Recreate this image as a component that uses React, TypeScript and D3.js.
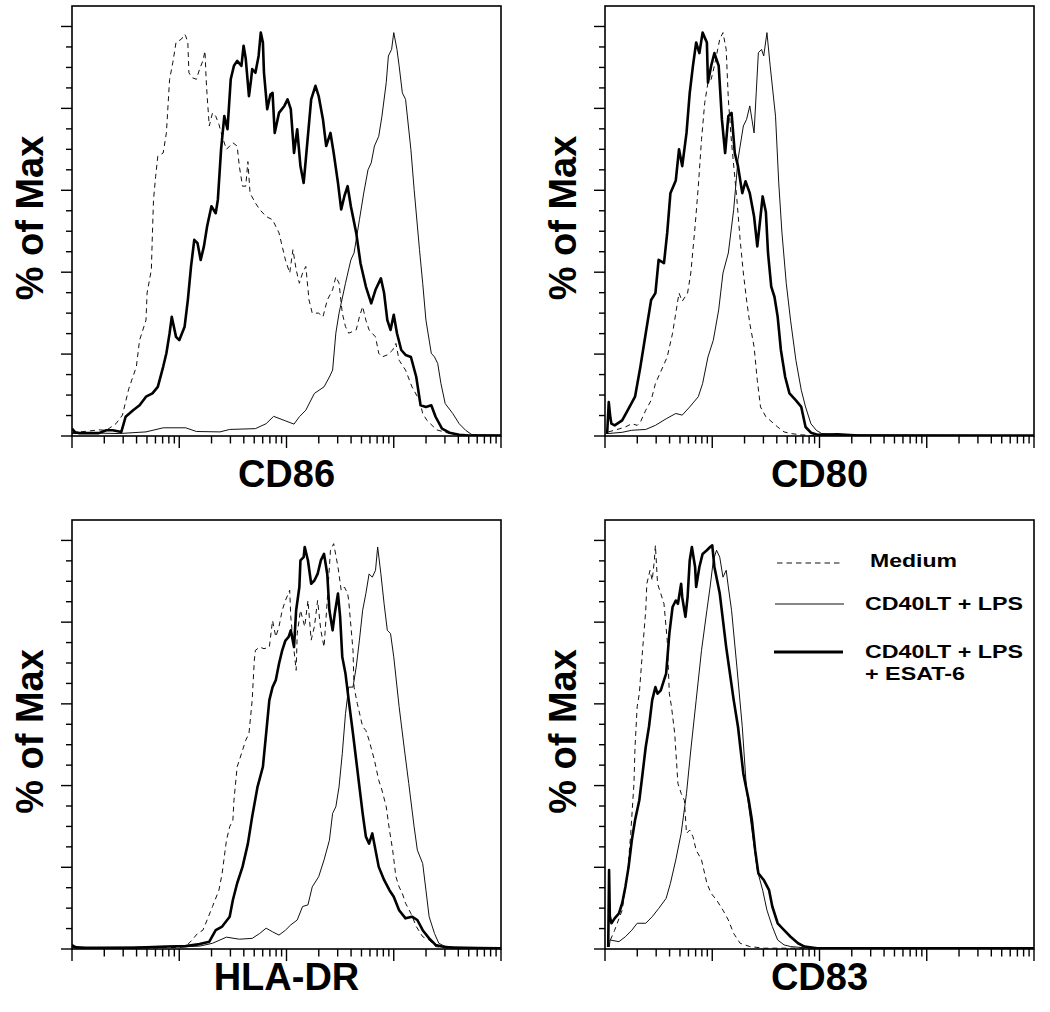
import React from 'react';
import * as d3 from 'd3';

type Pt = [number, number]; // [log10 fluorescence, % of max]

// ---------- data (x = log10 intensity, y = % of max) ----------
const cd86Medium: Pt[] = [[0.00,0.8],[0.15,1.2],[0.25,1.5],[0.32,1.4],[0.41,3.0],[0.47,5.1],[0.53,11.6],[0.60,16.9],[0.63,23.4],[0.69,28.3],[0.70,34.9],[0.74,40.6],[0.75,49.6],[0.76,57.7],[0.78,63.4],[0.80,68.3],[0.85,69.1],[0.88,74.0],[0.91,87.1],[0.94,91.2],[0.97,96.1],[1.02,96.9],[1.05,98.1],[1.06,97.7],[1.08,96.1],[1.09,88.7],[1.12,87.5],[1.16,87.1],[1.19,89.6],[1.22,91.6],[1.24,94.0],[1.25,87.5],[1.26,83.0],[1.28,75.7],[1.31,78.9],[1.34,78.1],[1.37,76.1],[1.40,73.2],[1.44,70.0],[1.50,71.6],[1.54,70.8],[1.56,65.9],[1.59,61.0],[1.62,61.0],[1.64,67.0],[1.66,59.3],[1.71,56.9],[1.75,55.3],[1.81,53.6],[1.87,52.8],[1.90,51.2],[1.93,49.6],[1.96,46.3],[1.99,43.0],[2.03,39.8],[2.06,45.5],[2.09,40.6],[2.12,37.3],[2.15,39.8],[2.18,41.4],[2.21,33.2],[2.24,30.0],[2.30,30.0],[2.34,29.1],[2.38,33.2],[2.43,35.7],[2.46,38.9],[2.49,37.3],[2.52,30.0],[2.55,26.7],[2.58,25.1],[2.65,25.9],[2.68,29.1],[2.71,31.6],[2.74,28.3],[2.77,25.9],[2.83,24.2],[2.86,20.2],[2.89,19.3],[2.94,19.8],[2.99,21.0],[3.02,22.6],[3.05,18.5],[3.11,16.1],[3.17,12.0],[3.24,8.7],[3.27,5.5],[3.31,3.8],[3.40,1.5],[3.55,0.4],[4.00,0.1]];
const cd86Lps: Pt[] = [[0.00,0.6],[0.26,0.7],[0.44,0.6],[0.69,1.0],[0.85,2.0],[1.06,2.0],[1.16,1.1],[1.38,1.0],[1.47,1.6],[1.71,1.8],[1.81,3.0],[1.88,4.8],[1.99,3.7],[2.07,2.9],[2.12,4.7],[2.18,6.3],[2.26,10.4],[2.35,12.0],[2.40,14.4],[2.43,16.1],[2.46,25.1],[2.49,30.0],[2.55,37.3],[2.60,43.0],[2.63,44.7],[2.68,52.8],[2.72,59.3],[2.76,65.0],[2.79,66.7],[2.82,70.8],[2.86,73.2],[2.89,78.1],[2.93,86.3],[2.95,92.8],[2.98,94.4],[3.00,98.5],[3.03,94.4],[3.05,90.4],[3.08,83.8],[3.11,82.2],[3.16,69.9],[3.19,60.2],[3.24,45.5],[3.27,37.3],[3.30,28.3],[3.35,20.2],[3.38,19.3],[3.41,17.7],[3.44,12.8],[3.48,7.9],[3.55,5.5],[3.61,3.0],[3.67,1.4],[3.73,0.3],[4.00,0.2]];
const cd86Esat: Pt[] = [[0.00,1.8],[0.03,0.9],[0.07,0.7],[0.25,0.7],[0.32,1.4],[0.38,1.4],[0.46,1.0],[0.50,4.7],[0.57,6.3],[0.63,7.5],[0.69,9.6],[0.75,10.4],[0.80,12.0],[0.85,16.9],[0.88,20.2],[0.91,25.1],[0.93,29.1],[0.97,24.2],[1.00,23.4],[1.05,26.7],[1.08,33.2],[1.11,41.4],[1.14,47.9],[1.17,47.1],[1.20,43.0],[1.23,46.3],[1.26,51.2],[1.30,56.1],[1.34,54.4],[1.36,57.7],[1.39,70.0],[1.42,78.1],[1.45,74.9],[1.48,87.1],[1.51,90.4],[1.54,91.6],[1.58,90.4],[1.60,95.3],[1.62,92.1],[1.65,83.0],[1.67,87.1],[1.68,89.6],[1.71,88.7],[1.74,92.8],[1.76,98.5],[1.78,96.1],[1.79,88.7],[1.82,79.8],[1.85,83.4],[1.87,83.8],[1.89,74.0],[1.93,78.9],[1.98,80.6],[2.01,82.2],[2.04,79.8],[2.07,69.1],[2.10,74.9],[2.13,65.9],[2.16,61.8],[2.18,67.5],[2.23,82.2],[2.27,85.5],[2.30,83.0],[2.34,77.3],[2.37,70.8],[2.41,74.0],[2.44,69.1],[2.48,61.8],[2.51,55.3],[2.54,58.6],[2.57,61.0],[2.60,56.1],[2.65,49.6],[2.69,42.2],[2.74,36.5],[2.79,32.4],[2.83,35.7],[2.88,38.5],[2.91,34.9],[2.94,28.3],[2.97,25.9],[3.00,29.6],[3.03,25.1],[3.07,21.0],[3.11,19.8],[3.16,19.3],[3.21,14.4],[3.25,7.5],[3.30,7.1],[3.35,7.5],[3.39,4.7],[3.45,1.8],[3.52,0.8],[3.61,0.3],[3.67,0.2],[4.00,0.1]];

const cd80Medium: Pt[] = [[0.03,1.0],[0.09,1.4],[0.19,2.2],[0.25,3.0],[0.30,2.6],[0.33,3.4],[0.38,6.3],[0.43,8.7],[0.47,12.8],[0.54,16.9],[0.58,19.3],[0.63,25.1],[0.66,30.0],[0.69,34.9],[0.72,32.9],[0.77,34.9],[0.80,39.8],[0.84,51.2],[0.87,61.0],[0.90,72.4],[0.93,81.4],[0.96,86.3],[0.99,87.1],[1.02,90.4],[1.07,96.9],[1.10,98.5],[1.13,94.4],[1.15,82.2],[1.18,71.6],[1.23,57.7],[1.26,47.9],[1.29,39.8],[1.32,33.2],[1.35,27.5],[1.39,21.8],[1.42,13.6],[1.45,7.1],[1.50,4.7],[1.54,3.8],[1.61,2.2],[1.67,1.0],[1.73,0.6],[1.83,0.3],[1.92,0.1],[4.00,0.1]];
const cd80Lps: Pt[] = [[0.03,0.6],[0.16,0.9],[0.25,1.4],[0.38,1.6],[0.47,2.6],[0.57,4.2],[0.66,5.5],[0.72,5.1],[0.79,7.1],[0.87,9.6],[0.91,12.8],[0.96,19.3],[1.01,23.4],[1.06,30.8],[1.10,39.8],[1.15,44.7],[1.20,55.3],[1.24,67.5],[1.29,75.7],[1.32,77.3],[1.35,80.6],[1.39,74.0],[1.41,83.8],[1.43,93.6],[1.46,94.4],[1.48,92.8],[1.51,98.5],[1.54,90.4],[1.59,78.1],[1.62,61.8],[1.65,49.6],[1.69,37.3],[1.73,28.3],[1.78,18.5],[1.83,11.2],[1.87,7.1],[1.92,3.0],[1.97,1.4],[2.02,0.6],[2.17,0.3],[4.00,0.1]];
const cd80Esat: Pt[] = [[0.02,0.5],[0.035,8.3],[0.05,4.5],[0.06,3.0],[0.09,2.6],[0.16,3.8],[0.22,6.7],[0.28,9.6],[0.33,16.9],[0.38,25.1],[0.43,33.2],[0.47,34.9],[0.50,43.0],[0.55,42.2],[0.58,49.6],[0.61,59.3],[0.66,62.4],[0.69,70.0],[0.72,65.9],[0.76,74.0],[0.79,83.8],[0.82,90.4],[0.85,96.1],[0.88,93.5],[0.91,98.5],[0.95,96.1],[0.96,86.3],[0.99,90.4],[1.02,93.5],[1.06,90.4],[1.09,77.3],[1.12,69.1],[1.15,78.1],[1.18,78.9],[1.21,69.1],[1.24,65.9],[1.28,59.3],[1.31,62.2],[1.35,59.3],[1.39,53.6],[1.42,46.3],[1.45,53.6],[1.47,58.5],[1.50,54.7],[1.52,44.7],[1.55,36.5],[1.58,34.0],[1.61,29.1],[1.64,21.0],[1.68,14.4],[1.72,10.4],[1.78,8.7],[1.83,7.1],[1.87,2.2],[1.92,0.8],[1.98,0.3],[2.17,0.4],[2.36,0.1],[4.00,0.1]];

const hladrMedium: Pt[] = [[0.00,0.3],[0.80,0.3],[1.00,0.4],[1.06,0.6],[1.12,2.2],[1.17,3.8],[1.22,4.6],[1.26,7.1],[1.31,10.4],[1.37,14.4],[1.40,18.5],[1.44,26.6],[1.47,29.9],[1.50,31.5],[1.51,36.4],[1.54,44.6],[1.58,47.8],[1.62,51.1],[1.65,52.7],[1.68,60.9],[1.70,70.7],[1.71,73.1],[1.75,73.9],[1.79,73.5],[1.84,73.9],[1.87,80.4],[1.90,76.4],[1.93,78.9],[1.96,82.9],[1.99,85.3],[2.03,87.8],[2.04,81.3],[2.06,75.6],[2.09,68.2],[2.10,77.2],[2.13,82.9],[2.17,78.9],[2.20,85.3],[2.23,75.6],[2.26,78.9],[2.29,85.3],[2.32,78.0],[2.35,73.9],[2.38,85.3],[2.41,97.6],[2.44,99.2],[2.48,93.5],[2.51,87.8],[2.54,88.6],[2.57,87.0],[2.58,85.3],[2.62,73.1],[2.63,64.1],[2.66,60.1],[2.71,54.4],[2.74,53.5],[2.77,51.1],[2.82,46.2],[2.86,41.3],[2.89,38.9],[2.93,34.8],[2.96,29.1],[2.99,24.2],[3.02,17.7],[3.05,15.2],[3.08,13.6],[3.11,11.2],[3.16,8.7],[3.21,5.5],[3.27,3.0],[3.33,2.2],[3.39,0.6],[3.50,0.2],[4.00,0.1]];
const hladrLps: Pt[] = [[0.00,0.3],[1.06,0.6],[1.19,0.7],[1.31,1.4],[1.44,2.9],[1.56,2.4],[1.68,2.6],[1.75,3.8],[1.81,5.1],[1.87,4.2],[1.93,3.4],[1.99,4.6],[2.04,5.9],[2.10,7.1],[2.15,10.4],[2.20,10.8],[2.24,15.2],[2.30,17.7],[2.35,21.8],[2.40,26.6],[2.43,33.2],[2.46,34.8],[2.49,39.7],[2.52,47.8],[2.55,57.6],[2.58,64.1],[2.62,64.1],[2.65,69.0],[2.68,75.6],[2.71,82.9],[2.74,87.0],[2.77,91.8],[2.80,91.0],[2.83,92.7],[2.85,98.4],[2.88,91.8],[2.91,84.5],[2.94,78.0],[2.97,77.2],[3.00,71.5],[3.05,59.3],[3.10,48.7],[3.14,40.5],[3.19,29.9],[3.22,24.2],[3.27,20.9],[3.30,14.4],[3.33,7.9],[3.38,3.8],[3.42,1.4],[3.48,0.6],[4.00,0.2]];
const hladrEsat: Pt[] = [[0.00,1.0],[0.02,0.6],[0.04,0.4],[0.13,0.3],[0.57,0.3],[0.88,0.6],[1.06,0.7],[1.19,1.2],[1.28,1.8],[1.34,4.6],[1.40,5.5],[1.47,7.9],[1.50,12.0],[1.54,16.1],[1.59,20.1],[1.64,25.8],[1.68,32.4],[1.73,39.7],[1.78,44.6],[1.81,52.7],[1.84,60.9],[1.87,64.1],[1.90,65.8],[1.93,69.8],[1.96,73.1],[1.99,75.5],[2.02,76.4],[2.04,78.0],[2.07,73.9],[2.09,82.9],[2.12,88.6],[2.13,95.1],[2.16,95.9],[2.17,98.4],[2.20,95.1],[2.23,89.4],[2.26,90.2],[2.29,91.8],[2.32,95.1],[2.35,96.7],[2.38,91.8],[2.40,82.9],[2.43,78.0],[2.45,82.1],[2.48,87.0],[2.50,81.3],[2.52,71.5],[2.55,67.4],[2.58,60.9],[2.62,52.7],[2.65,46.2],[2.68,39.7],[2.71,33.2],[2.74,27.5],[2.77,25.8],[2.80,28.3],[2.83,24.2],[2.86,20.1],[2.91,16.9],[2.96,14.4],[3.00,12.8],[3.05,9.5],[3.11,7.5],[3.17,7.9],[3.22,7.1],[3.27,4.6],[3.33,2.6],[3.39,1.0],[3.45,0.6],[3.55,0.3],[4.00,0.2]];

const cd83Medium: Pt[] = [[0.05,2.2],[0.09,4.6],[0.16,9.5],[0.21,18.5],[0.24,28.3],[0.27,40.5],[0.28,49.5],[0.30,59.3],[0.32,62.5],[0.35,73.1],[0.38,82.9],[0.39,89.4],[0.42,92.7],[0.44,90.2],[0.46,95.1],[0.47,98.8],[0.49,89.4],[0.52,87.0],[0.55,84.5],[0.58,75.6],[0.60,62.5],[0.62,59.3],[0.65,52.7],[0.68,40.5],[0.71,38.1],[0.74,36.4],[0.76,28.3],[0.79,29.1],[0.82,27.5],[0.85,24.2],[0.90,21.8],[0.95,16.1],[0.99,13.6],[1.04,12.0],[1.10,9.5],[1.15,7.1],[1.20,3.8],[1.26,1.4],[1.35,0.6],[1.48,0.2],[4.00,0.2]];
const cd83Lps: Pt[] = [[0.04,0.5],[0.047,2.2],[0.13,1.8],[0.19,3.0],[0.25,4.6],[0.30,6.3],[0.38,6.3],[0.44,7.9],[0.50,9.9],[0.57,12.4],[0.61,16.1],[0.66,21.8],[0.71,28.3],[0.76,38.1],[0.80,48.7],[0.85,60.9],[0.90,73.1],[0.95,82.9],[0.98,88.6],[1.01,95.1],[1.04,97.6],[1.07,95.9],[1.10,91.0],[1.13,92.7],[1.15,88.6],[1.18,82.9],[1.23,69.0],[1.28,54.4],[1.32,38.9],[1.37,29.1],[1.42,19.3],[1.47,14.4],[1.51,9.5],[1.56,5.5],[1.61,2.2],[1.67,1.0],[1.73,0.6],[1.86,0.3],[4.00,0.2]];
const cd83Esat: Pt[] = [[0.03,0.5],[0.038,19.3],[0.045,8.0],[0.06,6.3],[0.09,7.5],[0.13,8.7],[0.16,11.2],[0.19,15.2],[0.22,20.1],[0.25,26.6],[0.28,31.5],[0.32,36.4],[0.35,42.9],[0.38,49.5],[0.41,54.4],[0.44,60.9],[0.47,64.1],[0.49,62.5],[0.52,63.3],[0.55,65.8],[0.57,67.4],[0.60,77.2],[0.63,83.7],[0.66,85.3],[0.68,84.5],[0.71,89.4],[0.72,86.1],[0.75,81.3],[0.77,86.1],[0.79,95.1],[0.81,98.4],[0.84,93.5],[0.85,88.6],[0.88,93.5],[0.91,96.7],[0.95,97.6],[0.98,98.4],[1.00,98.8],[1.02,93.5],[1.07,87.0],[1.13,73.9],[1.20,60.9],[1.24,54.4],[1.29,42.9],[1.34,36.4],[1.37,31.5],[1.40,24.2],[1.43,18.5],[1.48,16.9],[1.53,14.4],[1.56,10.4],[1.61,6.3],[1.67,4.6],[1.73,3.0],[1.80,1.4],[1.86,0.6],[1.98,0.2],[4.00,0.2]];

const markerLabels = ['CD86', 'CD80', 'HLA-DR', 'CD83'];
const yAxisTitle = '% of Max';
const legendLabels = ['Medium', 'CD40LT + LPS', 'CD40LT + LPS', '+ ESAT-6'];
const xDomain: [number, number] = [1, 10000];
const yDomain: [number, number] = [0, 105];
const yTickValues = d3.range(0, 101, 5);

const FONT = "'Liberation Sans', Arial, Helvetica, sans-serif";
const W = 429;

interface PanelSpec {
  id: string; label: string; left: number; top: number; base: number; labelY: number;
  medium: Pt[]; lps: Pt[]; esat: Pt[]; legend?: boolean;
}

function Panel({ p }: { p: PanelSpec }) {
  const x = d3.scaleLog().domain(xDomain).range([p.left, p.left + W]);
  const y = d3.scaleLinear().domain(yDomain).range([p.base, p.top]);
  const line = d3.line<Pt>().x(d => x(Math.pow(10, d[0]))).y(d => y(d[1]));
  const xTicks = x.ticks();
  const isMajor = (t: number) => Math.abs(Math.log10(t) - Math.round(Math.log10(t))) < 1e-9;
  const cy = (p.top + p.base) / 2;
  const cx = p.left + W / 2;
  return (
    <g>
      <defs>
        <clipPath id={`clip-${p.id}`}>
          <rect x={p.left} y={p.top} width={W} height={p.base - p.top} />
        </clipPath>
      </defs>
      <g clipPath={`url(#clip-${p.id})`} fill="none" strokeLinejoin="round">
        <path d={line(p.medium) || ''} stroke="#111" strokeWidth={1} strokeDasharray="5,4" />
        <path d={line(p.lps) || ''} stroke="#111" strokeWidth={1} />
        <path d={line(p.esat) || ''} stroke="#000" strokeWidth={2.6} />
      </g>
      <rect x={p.left} y={p.top} width={W} height={p.base - p.top} fill="none" stroke="#000" strokeWidth={1.6} />
      {xTicks.map((t, i) => (
        <line key={'x' + i} x1={x(t)} x2={x(t)} y1={p.base} y2={p.base + (isMajor(t) ? 12 : 7.5)} stroke="#000" strokeWidth={1.4} />
      ))}
      {yTickValues.map((t, i) => (
        <line key={'y' + i} x1={p.left - (t % 20 === 0 ? 11 : 6)} x2={p.left} y1={y(t)} y2={y(t)} stroke="#000" strokeWidth={1.4} />
      ))}
      <text x={cx} y={p.labelY} textAnchor="middle" fontFamily={FONT} fontWeight="bold" fontSize={38} fill="#000">{p.label}</text>
      <text transform={`translate(${p.left - 29},${cy - 3}) rotate(-90)`} textAnchor="middle" fontFamily={FONT} fontWeight="bold" fontSize={38} fill="#000">{yAxisTitle}</text>
      {p.legend && (
        <g fontFamily={FONT} fontWeight="bold" fontSize={18.5} fill="#000">
          <line x1={777} x2={842} y1={563} y2={563} stroke="#111" strokeWidth={1.2} strokeDasharray="5.5,4" />
          <text x={870} y={567} textLength={87} lengthAdjust="spacingAndGlyphs">{legendLabels[0]}</text>
          <line x1={775} x2={844} y1={604} y2={604} stroke="#111" strokeWidth={1.1} />
          <text x={865} y={610} textLength={158} lengthAdjust="spacingAndGlyphs">{legendLabels[1]}</text>
          <line x1={774} x2={843} y1={652} y2={652} stroke="#000" strokeWidth={3} />
          <text x={865} y={658} textLength={158} lengthAdjust="spacingAndGlyphs">{legendLabels[2]}</text>
          <text x={865} y={679.5} textLength={100} lengthAdjust="spacingAndGlyphs">{legendLabels[3]}</text>
        </g>
      )}
    </g>
  );
}

export default function App() {
  const panels: PanelSpec[] = [
    { id: 'a', label: markerLabels[0], left: 72, top: 6, base: 436, labelY: 487, medium: cd86Medium, lps: cd86Lps, esat: cd86Esat },
    { id: 'b', label: markerLabels[1], left: 605, top: 6, base: 436, labelY: 487, medium: cd80Medium, lps: cd80Lps, esat: cd80Esat },
    { id: 'c', label: markerLabels[2], left: 72, top: 520, base: 949, labelY: 990, medium: hladrMedium, lps: hladrLps, esat: hladrEsat },
    { id: 'd', label: markerLabels[3], left: 605, top: 520, base: 949, labelY: 990, medium: cd83Medium, lps: cd83Lps, esat: cd83Esat, legend: true },
  ];
  return (
    <svg width={1050} height={1012} viewBox="0 0 1050 1012" style={{ position: 'absolute', left: 0, top: 0, background: '#fff' }}>
      <rect x={0} y={0} width={1050} height={1012} fill="#fff" />
      {panels.map(p => <Panel key={p.id} p={p} />)}
    </svg>
  );
}
